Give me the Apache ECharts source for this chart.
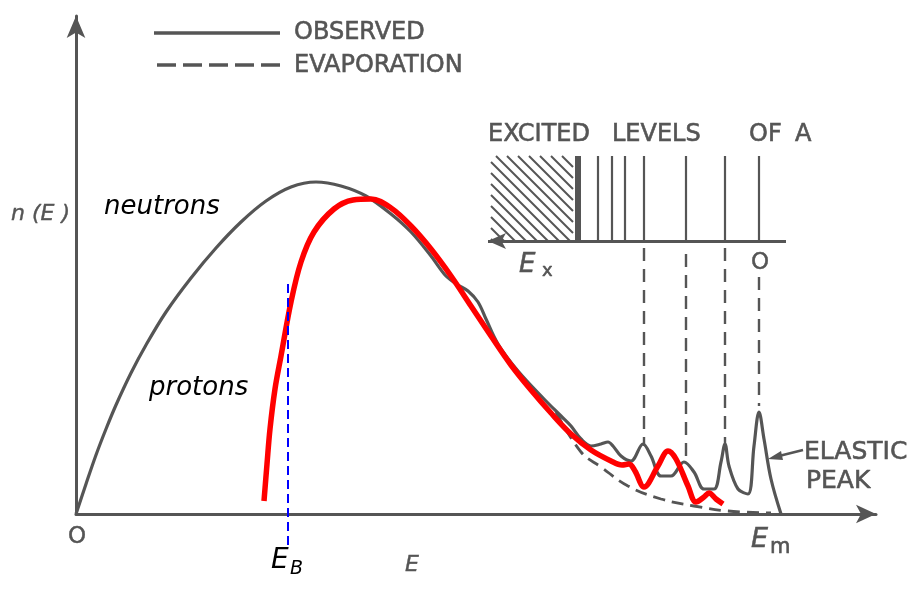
<!DOCTYPE html>
<html>
<head>
<meta charset="utf-8">
<script src="https://cdn.jsdelivr.net/npm/echarts@6/dist/echarts.min.js"></script>
<style>
  html, body { margin: 0; background: #fff; }
  #chart { width: 913px; height: 599px; }
</style>
</head>
<body>
<div id="chart"></div>
<script>
// energy E (x) and n(E) (y), arbitrary units
const observedE = [0, 1, 2, 3, 4, 5.5, 7, 9, 11.5, 14, 16.5, 19, 21.5, 24, 26.5, 29, 31.5, 33.5, 35.5, 37, 38.2, 39.2, 40.2, 41, 42.2, 44.2, 46.8, 48.5, 49.5, 50.5, 51.5, 52.5, 53.2, 53.7, 54.5, 55.5, 56.7, 57.5, 58.5, 59.5, 60.8, 61.8, 62.8, 63.8, 64.5, 64.9, 65.3, 66.2, 67.2, 67.8, 68.3, 68.8, 69.5, 70.5];
const observedN = [0, 3, 5.9, 8.5, 10.9, 14.1, 16.9, 20.2, 23.6, 26.6, 29.2, 31.3, 32.7, 33.2, 32.8, 31.8, 30, 28.2, 25.8, 23.8, 22.9, 22.3, 21.2, 19.5, 17, 14.3, 11.5, 9.8, 8.8, 7.5, 6.8, 7, 7.2, 6.8, 5.8, 5.3, 7, 5.8, 3.8, 3.8, 5.2, 4.2, 2.5, 2.5, 5.2, 7, 4.8, 2.5, 2, 6.8, 10.2, 7.5, 3.5, 0];

const evapE = [48, 50.5, 52.5, 55.2, 58.5, 61.8, 65.2, 69.5];
const evapN = [10.2, 6.2, 4.7, 2.8, 1.5, 0.8, 0.3, 0.1];

const protonE = [18.8, 19.1, 19.4, 19.9, 20.5, 21.5, 22.5, 23.8, 25.8, 27.7, 29.5, 31.5, 33.5, 35.5, 37.5, 39.5, 41.5, 43.5, 45.5, 47.5, 49.5, 51.5, 53.5, 54.6, 55.3, 55.9, 56.8, 58.2, 59.2, 60, 61.2, 62, 62.8, 63.3, 64, 64.7];
const protonN = [1.3, 5, 8.5, 12.5, 15.8, 21.2, 25.2, 28.2, 30.5, 31.4, 31.5, 30.6, 28.8, 26.5, 23.8, 20.8, 17.8, 14.9, 12.4, 10.1, 8.0, 6.4, 5.3, 4.9, 5.0, 4.3, 2.7, 4.8, 6.3, 5.5, 2.8, 1.2, 1.7, 2.1, 1.5, 1];

const barrierE = 21.2;          // E_B
const barrierSpan = [23, -3.4];

// excited levels of A, drawn on the E scale (0 of E_x sits at the elastic peak)
const levelE = [52.2, 53.6, 54.9, 56.8, 61.0, 64.9, 68.3];
const levelTop = 35.8;
const levelBase = 27.3;
const continuumE = [41.5, 49.7];   // hatched continuum
const continuumEdge = 50.2;
const dropE = [56.8, 61.0, 64.9, 68.3];
const dropFrom = [26.6, 26.0, 26.6, 23.7];
const dropTo = [6.8, 5.6, 6.8, 10.8];

const zip = (a, b) => a.map((v, i) => [v, b[i]]);
const gray = '#555';

const chart = echarts.init(document.getElementById('chart'));

const levelLines = levelE.map(x => [{ coord: [x, levelTop] }, { coord: [x, levelBase] }]);
levelLines.push([{ coord: [continuumEdge, levelTop], lineStyle: { width: 6 } }, { coord: [continuumEdge, levelBase] }]);
const dropLines = dropE.map((x, i) => [{ coord: [x, dropFrom[i]] }, { coord: [x, dropTo[i]] }]);

const caps = (text, x, y, size) => ({
  type: 'text', x, y,
  style: { text, font: size + 'px "DejaVu Sans"', fill: gray, stroke: gray, lineWidth: 0.6, verticalAlign: 'middle' }
});

chart.setOption({
  animation: false,
  grid: { left: 76, top: 16, width: 800, height: 498 },
  xAxis: {
    type: 'value', min: 0, max: 80,
    axisLine: { lineStyle: { color: gray, width: 3 }, symbol: ['none', 'arrow'], symbolSize: [14, 20] },
    axisTick: { show: false }, axisLabel: { show: false }, splitLine: { show: false }
  },
  yAxis: {
    type: 'value', min: 0, max: 49.8,
    axisLine: { lineStyle: { color: gray, width: 3 }, symbol: ['none', 'arrow'], symbolSize: [14, 22] },
    axisTick: { show: false }, axisLabel: { show: false }, splitLine: { show: false }
  },
  series: [
    {
      name: 'observed', type: 'line', data: zip(observedE, observedN),
      smooth: 0.35, symbol: 'none', clip: false,
      lineStyle: { color: gray, width: 3.2 }
    },
    {
      name: 'evaporation', type: 'line', data: zip(evapE, evapN),
      smooth: 0.4, symbol: 'none', clip: false,
      lineStyle: { color: gray, width: 2.8, type: [12, 7] }
    },
    {
      name: 'levels', type: 'line', data: [], silent: true,
      markLine: {
        silent: true, symbol: 'none', label: { show: false },
        lineStyle: { color: gray, width: 2.2, type: 'solid' },
        data: levelLines
      }
    },
    {
      name: 'levelAxis', type: 'line', data: [], silent: true,
      markLine: {
        silent: true, symbol: ['none', 'arrow'], symbolSize: [12, 18], label: { show: false },
        lineStyle: { color: gray, width: 3, type: 'solid' },
        data: [[{ coord: [71, levelBase] }, { coord: [41.2, levelBase] }]]
      }
    },
    {
      name: 'drops', type: 'line', data: [], silent: true,
      markLine: {
        silent: true, symbol: 'none', label: { show: false },
        lineStyle: { color: gray, width: 2.4, type: [13, 8] },
        data: dropLines
      }
    },
    {
      name: 'continuum', type: 'custom', silent: true,
      data: [[continuumE[0], levelTop, continuumE[1], levelBase]],
      renderItem: (params, api) => {
        const p0 = api.coord([api.value(0), api.value(1)]);
        const p1 = api.coord([api.value(2), api.value(3)]);
        const L = p0[0], T = p0[1], R = p1[0], B = p1[1];
        const step = 11;
        const children = [];
        for (let c = T - R; c <= B - L; c += step) {
          const xa = Math.max(L, T - c), xb = Math.min(R, B - c);
          if (xb <= xa) continue;
          children.push({
            type: 'line',
            shape: { x1: xa, y1: xa + c, x2: xb, y2: xb + c },
            style: { stroke: gray, lineWidth: 2 }
          });
        }
        return { type: 'group', children };
      }
    },
    {
      name: 'protons', type: 'line', data: zip(protonE, protonN),
      smooth: 0.35, symbol: 'none', clip: false,
      lineStyle: { color: '#ff0000', width: 5.5 }
    },
    {
      name: 'E_B', type: 'line', data: barrierSpan.map(y => [barrierE, y]),
      symbol: 'none', clip: false,
      lineStyle: { color: '#0000ff', width: 2, type: [9, 5] }
    }
  ],
  graphic: [
    { type: 'line', shape: { x1: 154, y1: 33, x2: 280, y2: 33 }, style: { stroke: gray, lineWidth: 3.5 } },
    { type: 'line', shape: { x1: 157, y1: 65, x2: 283, y2: 65 }, style: { stroke: gray, lineWidth: 3.5, lineDash: [19, 7] } },
    caps('OBSERVED', 294, 33, 24),
    caps('EVAPORATION', 294, 66, 24),
    caps('EXCITED', 488, 135, 24),
    caps('LEVELS', 612, 135, 24),
    caps('OF', 749, 135, 24),
    caps('A', 795, 135, 24),
    { type: 'text', x: 519, y: 265, style: { text: 'E', font: 'italic 26px "DejaVu Sans"', fill: gray, stroke: gray, lineWidth: 0.5, verticalAlign: 'middle' } },
    caps('x', 542, 271, 18),
    { type: 'text', x: 760, y: 263, style: { text: 'O', font: '23px "DejaVu Sans"', fill: gray, stroke: gray, lineWidth: 0.5, align: 'center', verticalAlign: 'middle' } },
    caps('ELASTIC', 804, 452, 25),
    caps('PEAK', 806, 481, 25),
    { type: 'line', shape: { x1: 803, y1: 450, x2: 775, y2: 457 }, style: { stroke: gray, lineWidth: 2.5 } },
    { type: 'polygon', shape: { points: [[768, 459], [781, 451], [783, 460]] }, style: { fill: gray } },
    { type: 'text', x: 11, y: 214, style: { text: 'n (E )', font: 'italic 22px "DejaVu Sans"', fill: gray, stroke: gray, lineWidth: 0.4, verticalAlign: 'middle' } },
    { type: 'text', x: 77, y: 537, style: { text: 'O', font: '23px "DejaVu Sans"', fill: gray, stroke: gray, lineWidth: 0.5, align: 'center', verticalAlign: 'middle' } },
    { type: 'text', x: 412, y: 565, style: { text: 'E', font: 'italic 22px "DejaVu Sans"', fill: gray, stroke: gray, lineWidth: 0.4, align: 'center', verticalAlign: 'middle' } },
    { type: 'text', x: 751, y: 540, style: { text: 'E', font: 'italic 27px "DejaVu Sans"', fill: gray, stroke: gray, lineWidth: 0.5, verticalAlign: 'middle' } },
    caps('m', 770, 548, 21),
    { type: 'text', x: 104, y: 207, style: { text: 'neutrons', font: 'italic 26px "DejaVu Sans"', fill: '#000', verticalAlign: 'middle' } },
    { type: 'text', x: 149, y: 388, style: { text: 'protons', font: 'italic 26px "DejaVu Sans"', fill: '#000', verticalAlign: 'middle' } },
    { type: 'text', x: 271, y: 561, style: { text: 'E', font: 'italic 28px "DejaVu Sans"', fill: '#000', verticalAlign: 'middle' } },
    { type: 'text', x: 290, y: 569, style: { text: 'B', font: 'italic 19px "DejaVu Sans"', fill: '#000', verticalAlign: 'middle' } }
  ]
});
</script>
</body>
</html>
